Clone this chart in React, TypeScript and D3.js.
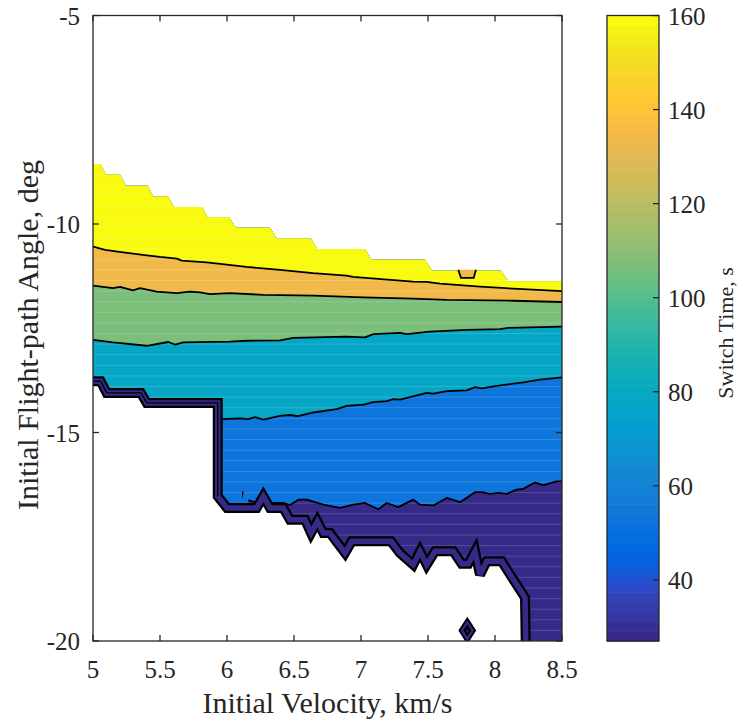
import React from 'react';
import * as d3 from 'd3';

// ---------- colormap (MATLAB parula, 64 entries) ----------
const PARULA: number[][] = [
  [0.2081,0.1663,0.5292],[0.2116,0.1898,0.5777],[0.2123,0.2138,0.6270],[0.2081,0.2386,0.6771],
  [0.1959,0.2645,0.7279],[0.1707,0.2919,0.7792],[0.1253,0.3242,0.8303],[0.0591,0.3598,0.8683],
  [0.0117,0.3875,0.8820],[0.0060,0.4086,0.8828],[0.0165,0.4266,0.8786],[0.0329,0.4430,0.8720],
  [0.0498,0.4586,0.8641],[0.0629,0.4737,0.8554],[0.0723,0.4887,0.8467],[0.0779,0.5040,0.8384],
  [0.0793,0.5200,0.8312],[0.0749,0.5375,0.8263],[0.0641,0.5570,0.8240],[0.0488,0.5772,0.8228],
  [0.0343,0.5966,0.8199],[0.0265,0.6137,0.8135],[0.0239,0.6287,0.8038],[0.0231,0.6418,0.7913],
  [0.0228,0.6535,0.7768],[0.0267,0.6642,0.7607],[0.0384,0.6743,0.7436],[0.0590,0.6838,0.7254],
  [0.0843,0.6928,0.7062],[0.1133,0.7015,0.6859],[0.1453,0.7098,0.6646],[0.1801,0.7177,0.6424],
  [0.2178,0.7250,0.6193],[0.2586,0.7317,0.5954],[0.3022,0.7376,0.5712],[0.3482,0.7424,0.5473],
  [0.3953,0.7459,0.5244],[0.4420,0.7481,0.5033],[0.4871,0.7491,0.4840],[0.5300,0.7491,0.4661],
  [0.5709,0.7485,0.4494],[0.6099,0.7473,0.4337],[0.6473,0.7456,0.4188],[0.6834,0.7435,0.4044],
  [0.7184,0.7411,0.3905],[0.7525,0.7384,0.3768],[0.7858,0.7356,0.3633],[0.8185,0.7327,0.3498],
  [0.8507,0.7299,0.3360],[0.8824,0.7274,0.3217],[0.9139,0.7258,0.3063],[0.9450,0.7261,0.2886],
  [0.9739,0.7314,0.2666],[0.9938,0.7455,0.2403],[0.9990,0.7653,0.2164],[0.9955,0.7861,0.1967],
  [0.9880,0.8066,0.1794],[0.9789,0.8271,0.1633],[0.9697,0.8481,0.1475],[0.9626,0.8705,0.1309],
  [0.9589,0.8949,0.1132],[0.9598,0.9218,0.0948],[0.9661,0.9514,0.0755],[0.9763,0.9831,0.0538],
];

// ---------- data (velocity km/s, flight-path angle deg) ----------
const colorLimits = [27, 160];
const colorbarTicks = [40, 60, 80, 100, 120, 140, 160];
const xTicks = [5, 5.5, 6, 6.5, 7, 7.5, 8, 8.5];
const yTicks = [-20, -15, -10, -5];

// sampling grid of the flight-path angle (60 rows from -20 to -5)
const gammaGridRows = 60;

// switch-time value of each filled band, from lowest to highest
const bandValues = [27, 52, 78, 107, 134, 160];

// upper edge of the valid data region (staircase)
const topEdge: number[][] = [
  [5,-8.56],[5.052,-8.56],[5.097,-8.81],[5.201,-8.81],[5.246,-9.08],[5.408,-9.08],
  [5.448,-9.34],[5.56,-9.34],[5.604,-9.59],[5.811,-9.59],[5.858,-9.84],[6.015,-9.84],
  [6.067,-10.09],[6.321,-10.09],[6.371,-10.35],[6.625,-10.35],[6.672,-10.6],[7.03,-10.6],
  [7.08,-10.86],[7.478,-10.86],[7.53,-11.12],[8.043,-11.12],[8.099,-11.37],[8.5,-11.37],
];

// lower edge of the valid data region
const bottomEdge: number[][] = [
  [5,-13.77],[5.057,-13.77],[5.102,-14.05],[5.358,-14.05],[5.401,-14.29],[5.931,-14.29],
  [5.931,-16.53],[6.0,-16.81],[6.221,-16.81],[6.271,-16.53],[6.321,-16.81],[6.42,-16.81],
  [6.47,-17.09],[6.582,-17.09],[6.627,-17.41],[6.674,-17.13],[6.719,-17.41],[6.769,-17.41],
  [6.881,-17.89],[6.931,-17.61],[7.224,-17.61],[7.291,-17.89],[7.39,-18.17],[7.44,-17.85],
  [7.49,-18.17],[7.552,-17.85],[7.689,-17.85],[7.751,-18.15],[7.801,-18.15],[7.851,-17.85],
  [7.888,-18.41],[7.938,-18.09],[8.05,-18.09],[8.224,-18.96],[8.229,-20],
];
// number of lower-edge points in the left part that carries extra stacked lines
const stackedLeftCount = 7;

// contour lines (band boundaries), lowest to highest
const contour52: number[][] = [
  [6.159,-16.63],[6.196,-16.66],[6.334,-16.69],[6.42,-16.69],[6.47,-16.74],[6.532,-16.61],
  [6.595,-16.61],[6.719,-16.73],[6.843,-16.81],[6.943,-16.73],[7.03,-16.69],[7.129,-16.84],
  [7.192,-16.69],[7.278,-16.79],[7.39,-16.61],[7.44,-16.73],[7.54,-16.75],[7.64,-16.57],
  [7.739,-16.67],[7.851,-16.43],[7.901,-16.43],[7.963,-16.47],[8.025,-16.45],[8.087,-16.47],
  [8.162,-16.37],[8.211,-16.35],[8.299,-16.2],[8.361,-16.26],[8.461,-16.17],[8.5,-16.17],
];
const contour78: number[][] = [
  [5.96,-14.68],[6.097,-14.66],[6.159,-14.68],[6.209,-14.63],[6.271,-14.69],[6.396,-14.6],
  [6.47,-14.58],[6.532,-14.61],[6.644,-14.52],[6.819,-14.44],[6.893,-14.36],[7.017,-14.33],
  [7.092,-14.27],[7.192,-14.25],[7.241,-14.2],[7.291,-14.21],[7.49,-14.05],[7.54,-14.07],
  [7.64,-14.01],[7.789,-13.99],[7.851,-13.91],[7.901,-13.94],[8.013,-13.88],[8.211,-13.8],
  [8.336,-13.73],[8.5,-13.68],
];
const contour107: number[][] = [
  [5,-12.78],[5.149,-12.84],[5.401,-12.92],[5.562,-12.83],[5.612,-12.89],[5.674,-12.84],
  [6.022,-12.82],[6.147,-12.8],[6.396,-12.79],[6.495,-12.73],[6.893,-12.7],[7.03,-12.72],
  [7.092,-12.64],[7.291,-12.61],[7.341,-12.64],[7.515,-12.58],[7.789,-12.54],[8.037,-12.52],
  [8.099,-12.49],[8.5,-12.46],
];
const contour134: number[][] = [
  [5,-11.48],[5.149,-11.54],[5.201,-11.51],[5.299,-11.59],[5.351,-11.54],[5.475,-11.62],
  [5.625,-11.66],[5.724,-11.62],[5.799,-11.64],[5.873,-11.68],[6.022,-11.66],[6.271,-11.7],
  [6.644,-11.72],[7.017,-11.76],[7.39,-11.79],[7.64,-11.82],[8.137,-11.84],[8.5,-11.87],
];
const contour160: number[][] = [
  [5,-10.54],[5.09,-10.62],[5.226,-10.68],[5.401,-10.75],[5.5,-10.79],[5.625,-10.83],
  [5.662,-10.88],[5.849,-10.92],[6.147,-11.03],[6.396,-11.1],[6.642,-11.18],[6.893,-11.24],
  [6.94,-11.27],[7.388,-11.38],[7.49,-11.39],[7.59,-11.43],[7.888,-11.5],[8.134,-11.55],
  [8.5,-11.61],
];
const contourLines = [contour52, contour78, contour107, contour134, contour160];

// small closed contours
const pocket134: number[][] = [[7.726,-11.1],[7.746,-11.29],[7.841,-11.29],[7.858,-11.1]];
const islandCenter = [7.793, -19.75];
const islandHalf = [0.04, 0.2];
const dropMark: number[][] = [[6.111,-16.41],[6.123,-16.41],[6.117,-16.61]];

// ---------- layout ----------
const W = 738, H = 721;
const plotL = 93, plotR = 562, plotT = 15.5, plotB = 641;
const cbL = 607, cbR = 659;
const axisColor = '#262626';
const fontFamily = '"Liberation Serif", "Times New Roman", Times, serif';

const xScale = d3.scaleLinear().domain([5, 8.5]).range([plotL, plotR]);
const yScale = d3.scaleLinear().domain([-20, -5]).range([plotB, plotT]);
const cScale = d3.scaleLinear().domain(colorLimits).range([plotB, plotT]);
const rowScale = d3.scaleLinear().domain([0, gammaGridRows - 1]).range([-20, -5]);
const gammaRows = d3.range(gammaGridRows).map(k => rowScale(k));

function cmap(v: number): string {
  const t = (v - colorLimits[0]) / (colorLimits[1] - colorLimits[0]);
  const i = Math.max(0, Math.min(63, Math.floor(t * 64)));
  const c = PARULA[i];
  return d3.rgb(c[0] * 255, c[1] * 255, c[2] * 255).formatHex();
}

const line = d3.line<number[]>().x(d => xScale(d[0])).y(d => yScale(d[1]));

function regionAbove(pts: number[][]): string {
  const out: number[][] = [[5, -5]];
  if (pts[0][0] > 5) {
    out.push([5, -20]);
    out.push([pts[0][0] - 0.005, -20]);
  }
  out.push(...pts);
  out.push([8.5, -5]);
  return line(out) + 'Z';
}

const validRegion = line([...topEdge, [8.5, -20], ...bottomEdge.slice().reverse()]) + 'Z';

export default function App() {
  const purple = cmap(bandValues[0]);
  const cx = xScale(islandCenter[0]);
  const cy = yScale(islandCenter[1]);
  const hw = xScale(islandCenter[0] + islandHalf[0]) - cx;
  const hh = cy - yScale(islandCenter[1] + islandHalf[1]);
  const diamond = (s: number) => `M${cx},${cy - hh * s}L${cx + hw * s},${cy}L${cx},${cy + hh * s}L${cx - hw * s},${cy}Z`;
  const cbSteps = d3.range(64);
  const stepH = (plotB - plotT) / 64;

  return (
    <svg width={W} height={H} style={{ position: 'absolute', left: 0, top: 0, background: '#fff' }}
      fontFamily={fontFamily}>
      <defs>
        <clipPath id="valid"><path d={validRegion} /></clipPath>
        <clipPath id="plotArea"><rect x={plotL} y={plotT} width={plotR - plotL} height={plotB - plotT} /></clipPath>
      </defs>

      {/* filled bands */}
      <g clipPath="url(#valid)">
        <rect x={plotL} y={plotT} width={plotR - plotL} height={plotB - plotT} fill={purple} />
        {contourLines.map((ln, i) => (
          <path key={i} d={regionAbove(ln)} fill={cmap(bandValues[i + 1])} />
        ))}
        {/* faint rendering seams along the sampling rows */}
        {gammaRows.map((g, k) => (
          <line key={k} x1={plotL} x2={plotR} y1={yScale(g)} y2={yScale(g)} stroke="#fff" strokeOpacity={0.16} strokeWidth={1} />
        ))}
      </g>

      <g clipPath="url(#plotArea)">
        {/* contour lines */}
        {contourLines.map((ln, i) => (
          <path key={i} d={line(ln) || ''} fill="none" stroke="#000" strokeWidth={1.8} strokeLinejoin="round" />
        ))}
        {/* pocket */}
        <path d={line(pocket134) + 'Z'} fill={cmap(bandValues[4])} stroke="none" />
        <path d={line(pocket134) || ''} fill="none" stroke="#000" strokeWidth={1.8} />
        {/* stacked contours along the lower edge */}
        <path d={line(bottomEdge) || ''} fill="none" stroke="#000" strokeWidth={10} strokeLinejoin="miter" strokeMiterlimit={3} />
        <path d={line(bottomEdge) || ''} fill="none" stroke={purple} strokeWidth={5.5} strokeLinejoin="miter" strokeMiterlimit={3} />
        <path d={line(bottomEdge.slice(0, stackedLeftCount)) || ''} fill="none" stroke="#000" strokeWidth={1.4} strokeLinejoin="miter" />
        {/* island */}
        <path d={diamond(1)} fill={purple} stroke="#000" strokeWidth={6} strokeLinejoin="miter" />
        <path d={diamond(1)} fill="none" stroke={purple} strokeWidth={2.2} />
        <path d={diamond(0.35)} fill="none" stroke="#000" strokeWidth={1.2} />
        <path d={line(dropMark) + 'Z'} fill="#000" />
      </g>

      {/* axes box */}
      <rect x={plotL} y={plotT} width={plotR - plotL} height={plotB - plotT} fill="none" stroke={axisColor} strokeWidth={1.3} />
      {xTicks.map(t => (
        <g key={'x' + t}>
          <line x1={xScale(t)} x2={xScale(t)} y1={plotB} y2={plotB - 6} stroke={axisColor} strokeWidth={1.3} />
          <line x1={xScale(t)} x2={xScale(t)} y1={plotT} y2={plotT + 6} stroke={axisColor} strokeWidth={1.3} />
          <text x={xScale(t)} y={678} textAnchor="middle" fontSize={25} fill={axisColor}>{t}</text>
        </g>
      ))}
      {yTicks.map(t => (
        <g key={'y' + t}>
          <line x1={plotL} x2={plotL + 6} y1={yScale(t)} y2={yScale(t)} stroke={axisColor} strokeWidth={1.3} />
          <line x1={plotR} x2={plotR - 6} y1={yScale(t)} y2={yScale(t)} stroke={axisColor} strokeWidth={1.3} />
          <text x={80} y={yScale(t) + 9} textAnchor="end" fontSize={25} fill={axisColor}>{t}</text>
        </g>
      ))}
      <text x={(plotL + plotR) / 2} y={713} textAnchor="middle" fontSize={30} fill={axisColor}>Initial Velocity, km/s</text>
      <text transform={`translate(38,335) rotate(-90)`} textAnchor="middle" fontSize={30} fill={axisColor}>Initial Flight-path Angle, deg</text>

      {/* colorbar */}
      {cbSteps.map(i => (
        <rect key={i} x={cbL} y={plotB - (i + 1) * stepH} width={cbR - cbL} height={stepH + 0.6}
          fill={d3.rgb(PARULA[i][0] * 255, PARULA[i][1] * 255, PARULA[i][2] * 255).formatHex()} />
      ))}
      <rect x={cbL} y={plotT} width={cbR - cbL} height={plotB - plotT} fill="none" stroke={axisColor} strokeWidth={1.3} />
      {colorbarTicks.map(t => (
        <g key={'c' + t}>
          <line x1={cbR} x2={cbR - 6} y1={cScale(t)} y2={cScale(t)} stroke={axisColor} strokeWidth={1.3} />
          <text x={668} y={cScale(t) + 9} fontSize={25} fill={axisColor}>{t}</text>
        </g>
      ))}
      <text transform={`translate(733,333) rotate(-90)`} textAnchor="middle" fontSize={22} fill={axisColor}>Switch Time, s</text>
    </svg>
  );
}
